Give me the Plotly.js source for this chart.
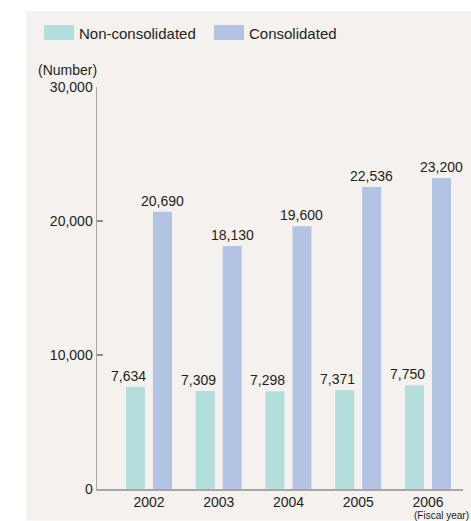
<!DOCTYPE html>
<html>
<head>
<meta charset="utf-8">
<script src="https://cdn.plot.ly/plotly-3.0.1.min.js"></script>
<style>
  html, body { margin: 0; padding: 0; background: #ffffff; }
  #chart { width: 471px; height: 521px; }
</style>
</head>
<body>
<div id="chart"></div>
<script>
// ---- Data ----
var years = ['2002', '2003', '2004', '2005', '2006'];
var seriesNames = ['Non-consolidated', 'Consolidated'];
var nonConsolidated = [7634, 7309, 7298, 7371, 7750];
var consolidated = [20690, 18130, 19600, 22536, 23200];
var yTickVals = [0, 10000, 20000, 30000];
var yTickText = ['0', '10,000', '20,000', '30,000'];
var yUnit = '(Number)';
var xUnit = '(Fiscal year)';

// ---- Styling ----
var colors = ['#b3dedb', '#b3c3e4'];
var txt = '#231f20';
var font = 'Liberation Sans, Arial, Helvetica, sans-serif';

// plot area in pixels
var L = 97, R = 8, T = 87, B = 32, W = 471, H = 521;
var pw = W - L - R, ph = H - T - B;
function px(x) { return (x - L) / pw; }
function py(y) { return (H - B - y) / ph; }

function fmt(v) { return v.toLocaleString('en-US'); }

var traces = [
  { type: 'bar', name: seriesNames[0], x: years, y: nonConsolidated,
    marker: { color: colors[0] }, hoverinfo: 'skip', showlegend: false },
  { type: 'bar', name: seriesNames[1], x: years, y: consolidated,
    marker: { color: colors[1] }, hoverinfo: 'skip', showlegend: false }
];

var annotations = [];
years.forEach(function (yr, i) {
  annotations.push({ x: i, y: nonConsolidated[i], xref: 'x', yref: 'y',
    text: fmt(nonConsolidated[i]), showarrow: false, xanchor: 'center', yanchor: 'bottom',
    xshift: -20.5, yshift: 1, font: { family: font, size: 14, color: txt } });
  annotations.push({ x: i, y: consolidated[i], xref: 'x', yref: 'y',
    text: fmt(consolidated[i]), showarrow: false, xanchor: 'center', yanchor: 'bottom',
    xshift: 13.5, yshift: 1, font: { family: font, size: 14, color: txt } });
});
// axis unit labels
annotations.push({ x: px(36), y: py(70), xref: 'paper', yref: 'paper', text: yUnit,
  showarrow: false, xanchor: 'left', yanchor: 'middle', font: { family: font, size: 14, color: txt } });
annotations.push({ x: px(470), y: py(515.5), xref: 'paper', yref: 'paper', text: xUnit,
  showarrow: false, xanchor: 'right', yanchor: 'middle', borderpad: 0,
  font: { family: font, size: 10, color: txt } });

// legend (manual, to match the wide swatches)
var shapes = [
  { type: 'rect', xref: 'paper', yref: 'paper', layer: 'below',
    x0: px(26), x1: px(475), y0: py(520.5), y1: py(11),
    fillcolor: '#f4f1ee', line: { width: 0 } },
  { type: 'rect', xref: 'paper', yref: 'paper',
    x0: px(44), x1: px(74), y0: py(40), y1: py(25), fillcolor: colors[0], line: { width: 0 } },
  { type: 'rect', xref: 'paper', yref: 'paper',
    x0: px(214), x1: px(244), y0: py(40), y1: py(25), fillcolor: colors[1], line: { width: 0 } }
];
annotations.push({ x: px(77), y: py(33), xref: 'paper', yref: 'paper', text: seriesNames[0],
  showarrow: false, xanchor: 'left', yanchor: 'middle', font: { family: font, size: 15, color: txt } });
annotations.push({ x: px(247), y: py(33), xref: 'paper', yref: 'paper', text: seriesNames[1],
  showarrow: false, xanchor: 'left', yanchor: 'middle', font: { family: font, size: 15, color: txt } });

var layout = {
  width: W, height: H,
  margin: { l: L, r: R, t: T, b: B, pad: 0 },
  paper_bgcolor: '#ffffff',
  plot_bgcolor: 'rgba(0,0,0,0)',
  barmode: 'group',
  bargap: 0.226,
  bargroupgap: 0.296,
  showlegend: false,
  font: { family: font, size: 14, color: txt },
  xaxis: {
    type: 'category', range: [-0.7455, 4.502],
    showline: true, linecolor: '#a6a6a6', linewidth: 1.5,
    ticks: '', showgrid: false, zeroline: false,
    tickfont: { family: font, size: 14, color: txt }
  },
  yaxis: {
    range: [0, 30000], tickvals: yTickVals, ticktext: yTickText,
    showline: true, linecolor: '#a6a6a6', linewidth: 1.5,
    ticks: 'inside', ticklen: 6, tickcolor: '#8c8c8c', tickwidth: 1.2,
    showgrid: false, zeroline: false,
    tickfont: { family: font, size: 14, color: txt }
  },
  shapes: shapes,
  annotations: annotations
};

Plotly.newPlot('chart', traces, layout, { displayModeBar: false, staticPlot: true });
</script>
</body>
</html>
